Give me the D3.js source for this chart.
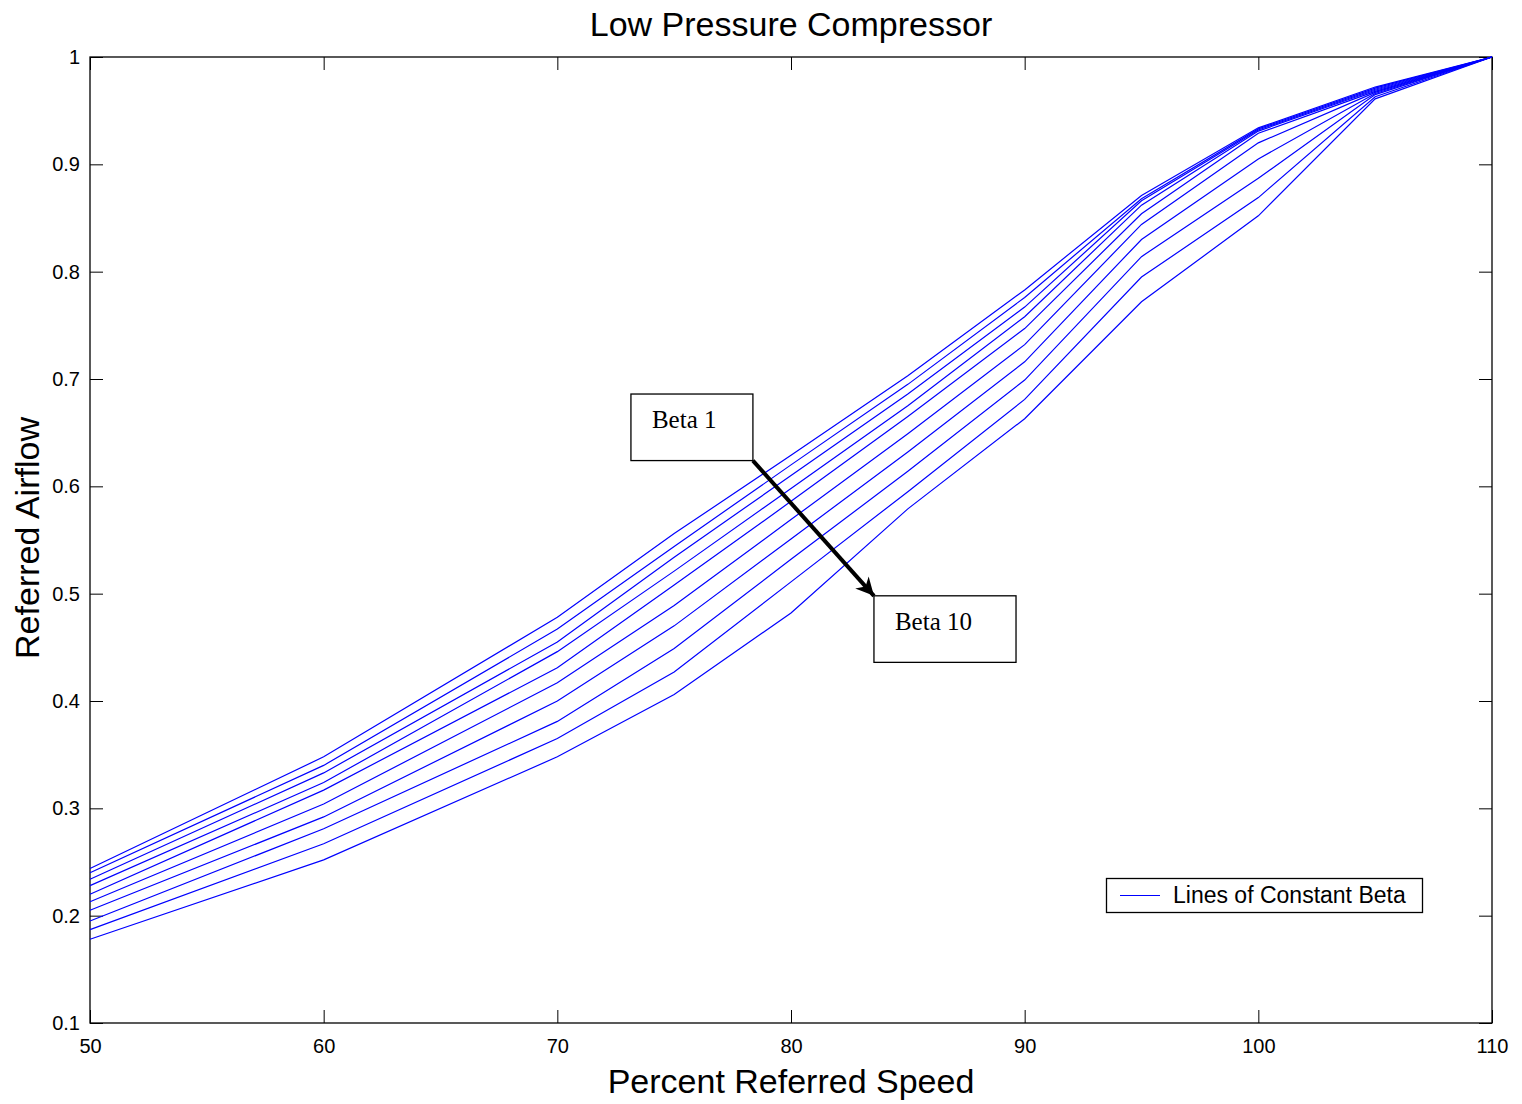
<!DOCTYPE html>
<html>
<head>
<meta charset="utf-8">
<script src="https://cdn.jsdelivr.net/npm/d3@7"></script>
<style>
    body { margin: 0; background: #fff; }
</style>
</head>
<body>
<div id="chart"></div>
<script>
// Percent referred speed (x positions of the map points)
const speeds = [50, 60, 70, 75, 80, 85, 90, 95, 100, 105, 110];

// Referred airflow, one array per constant-beta line (Beta 1 on top ... Beta 10 at the bottom)
const beta1  = [0.244, 0.348, 0.478, 0.556, 0.629, 0.703, 0.783, 0.871, 0.934, 0.972, 1.0];
const beta2  = [0.240, 0.340, 0.467, 0.544, 0.620, 0.695, 0.776, 0.868, 0.933, 0.971, 1.0];
const beta3  = [0.234, 0.333, 0.455, 0.534, 0.610, 0.686, 0.767, 0.866, 0.932, 0.970, 1.0];
const beta4  = [0.228, 0.324, 0.446, 0.521, 0.598, 0.675, 0.758, 0.862, 0.931, 0.969, 1.0];
const beta5  = [0.220, 0.317, 0.431, 0.508, 0.586, 0.665, 0.747, 0.854, 0.929, 0.968, 1.0];
const beta6  = [0.213, 0.304, 0.417, 0.489, 0.569, 0.649, 0.732, 0.844, 0.920, 0.967, 1.0];
const beta7  = [0.205, 0.292, 0.400, 0.470, 0.551, 0.632, 0.716, 0.830, 0.905, 0.966, 1.0];
const beta8  = [0.195, 0.281, 0.381, 0.449, 0.532, 0.614, 0.699, 0.814, 0.887, 0.965, 1.0];
const beta9  = [0.187, 0.267, 0.365, 0.427, 0.511, 0.595, 0.681, 0.795, 0.869, 0.963, 1.0];
const beta10 = [0.178, 0.252, 0.348, 0.406, 0.482, 0.579, 0.663, 0.772, 0.852, 0.961, 1.0];
const betaLines = [beta1, beta2, beta3, beta4, beta5, beta6, beta7, beta8, beta9, beta10];

// Tick values
const xTicks = [50, 60, 70, 80, 90, 100, 110];
const yTicks = [0.1, 0.2, 0.3, 0.4, 0.5, 0.6, 0.7, 0.8, 0.9, 1];

// Annotation boxes (data coordinates: x0, x1, y0, y1)
const beta1Box = [73.15, 78.37, 0.624, 0.686];
const beta10Box = [83.55, 89.63, 0.436, 0.498];

const sans = '"Liberation Sans", Arial, Helvetica, sans-serif';
const serif = '"Liberation Serif", "Times New Roman", serif';

const width = 1522, height = 1104;
const margin = {top: 57, right: 30, bottom: 81, left: 90};

const svg = d3.select('#chart')
    .append('svg')
    .attr('width', width)
    .attr('height', height)
    .style('font-family', sans);

const x = d3.scaleLinear()
    .domain([50, 110])
    .range([margin.left, width - margin.right]);

const y = d3.scaleLinear()
    .domain([0.1, 1])
    .range([height - margin.bottom, margin.top]);

const tickLen = 13;
const fmtY = d => (d === 1 ? '1' : d3.format('.1f')(d));

// Axes (MATLAB style: ticks inward on all four sides)
svg.append('g')
    .attr('transform', `translate(0,${height - margin.bottom})`)
    .call(d3.axisBottom(x).tickValues(xTicks).tickSize(-tickLen).tickPadding(16).tickSizeOuter(0))
    .call(g => g.select('.domain').remove())
    .call(g => g.selectAll('line').attr('stroke', '#000'))
    .call(g => g.selectAll('text').attr('font-size', '20px').attr('fill', '#000').attr('font-family', sans));

svg.append('g')
    .attr('transform', `translate(0,${margin.top})`)
    .call(d3.axisTop(x).tickValues(xTicks).tickSize(-tickLen).tickFormat('').tickSizeOuter(0))
    .call(g => g.select('.domain').remove())
    .call(g => g.selectAll('line').attr('stroke', '#000'));

svg.append('g')
    .attr('transform', `translate(${margin.left},0)`)
    .call(d3.axisLeft(y).tickValues(yTicks).tickFormat(fmtY).tickSize(-tickLen).tickPadding(10).tickSizeOuter(0))
    .call(g => g.select('.domain').remove())
    .call(g => g.selectAll('line').attr('stroke', '#000'))
    .call(g => g.selectAll('text').attr('font-size', '20px').attr('fill', '#000').attr('font-family', sans));

svg.append('g')
    .attr('transform', `translate(${width - margin.right},0)`)
    .call(d3.axisRight(y).tickValues(yTicks).tickSize(-tickLen).tickFormat('').tickSizeOuter(0))
    .call(g => g.select('.domain').remove())
    .call(g => g.selectAll('line').attr('stroke', '#000'));

// Plot box
svg.append('rect')
    .attr('x', margin.left)
    .attr('y', margin.top)
    .attr('width', width - margin.left - margin.right)
    .attr('height', height - margin.top - margin.bottom)
    .attr('fill', 'none')
    .attr('stroke', '#000')
    .attr('stroke-width', 1.3);

// Lines of constant beta
const line = d3.line()
    .x((d, i) => x(speeds[i]))
    .y(d => y(d));

svg.append('g')
    .selectAll('path')
    .data(betaLines)
    .enter()
    .append('path')
    .attr('fill', 'none')
    .attr('stroke', '#0000ff')
    .attr('stroke-width', 1.2)
    .attr('d', line);

// Annotation boxes and arrow
function drawBox(b, label, tx) {
    svg.append('rect')
        .attr('x', x(b[0]))
        .attr('y', y(b[3]))
        .attr('width', x(b[1]) - x(b[0]))
        .attr('height', y(b[2]) - y(b[3]))
        .attr('fill', '#fff')
        .attr('stroke', '#000')
        .attr('stroke-width', 1.3);
    svg.append('text')
        .attr('x', x(b[0]) + tx)
        .attr('y', y(b[3]) + 34)
        .style('font-family', serif)
        .attr('font-size', '25px')
        .attr('fill', '#000')
        .text(label);
}

svg.append('defs').append('marker')
    .attr('id', 'arrowhead')
    .attr('viewBox', '0 0 10 10')
    .attr('refX', 10)
    .attr('refY', 5)
    .attr('markerWidth', 6.5)
    .attr('markerHeight', 4.5)
    .attr('markerUnits', 'strokeWidth')
    .attr('orient', 'auto')
    .append('path')
    .attr('d', 'M0,0 L10,5 L0,10 L3,5 Z')
    .attr('fill', '#000');

svg.append('line')
    .attr('x1', x(beta1Box[1]))
    .attr('y1', y(beta1Box[2]))
    .attr('x2', x(beta10Box[0]))
    .attr('y2', y(beta10Box[3]))
    .attr('stroke', '#000')
    .attr('stroke-width', 4)
    .attr('marker-end', 'url(#arrowhead)');

drawBox(beta1Box, 'Beta 1', 21);
drawBox(beta10Box, 'Beta 10', 21);

// Legend
const legend = svg.append('g');
legend.append('rect')
    .attr('x', 1106.5)
    .attr('y', 878.5)
    .attr('width', 316)
    .attr('height', 34)
    .attr('fill', '#fff')
    .attr('stroke', '#000')
    .attr('stroke-width', 1.3);
legend.append('line')
    .attr('x1', 1120)
    .attr('x2', 1160)
    .attr('y1', 895.5)
    .attr('y2', 895.5)
    .attr('stroke', '#0000ff')
    .attr('stroke-width', 1.2);
legend.append('text')
    .attr('x', 1173)
    .attr('y', 903)
    .attr('font-size', '23px')
    .attr('fill', '#000')
    .text('Lines of Constant Beta');

// Title and axis labels
svg.append('text')
    .attr('x', (margin.left + width - margin.right) / 2)
    .attr('y', 36)
    .attr('text-anchor', 'middle')
    .attr('font-size', '34px')
    .attr('fill', '#000')
    .text('Low Pressure Compressor');

svg.append('text')
    .attr('x', (margin.left + width - margin.right) / 2)
    .attr('y', 1093)
    .attr('text-anchor', 'middle')
    .attr('font-size', '34px')
    .attr('fill', '#000')
    .text('Percent Referred Speed');

svg.append('text')
    .attr('transform', 'rotate(-90)')
    .attr('x', -(margin.top + height - margin.bottom) / 2 + 2)
    .attr('y', 39)
    .attr('text-anchor', 'middle')
    .attr('font-size', '34px')
    .attr('fill', '#000')
    .text('Referred Airflow');
</script>
</body>
</html>
